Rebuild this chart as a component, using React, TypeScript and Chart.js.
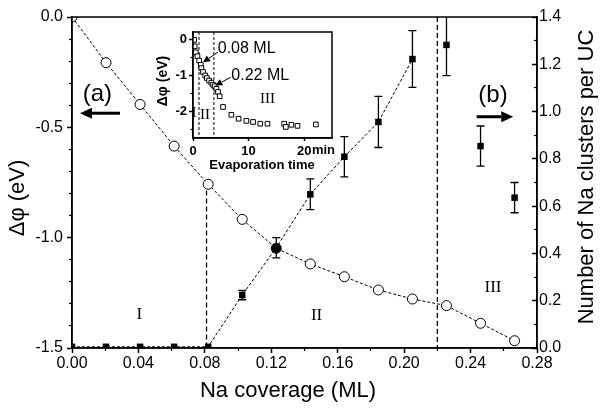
import React, { useEffect, useRef } from 'react';
import { Chart, registerables } from 'chart.js';

Chart.register(...registerables);

const SANS = "'Liberation Sans', Arial, Helvetica, sans-serif";
const SERIF = "'Liberation Serif', 'Times New Roman', serif";

// ---------- main chart data ----------
const coverage = [0, 0.0205, 0.041, 0.0615, 0.082, 0.1025, 0.123, 0.1435, 0.164, 0.1845, 0.205, 0.2255, 0.246, 0.2665];
const deltaPhi = [0, -0.207, -0.396, -0.585, -0.758, -0.917, -1.048, -1.119, -1.177, -1.237, -1.278, -1.308, -1.388, -1.467];
const clusters = [0.005, 0.005, 0.005, 0.005, 0.005, 0.224, 0.424, 0.65, 0.809, 0.956, 1.222, 1.282, 0.854, 0.636];
const clusterErr = [0, 0, 0, 0, 0, 0.02, 0.043, 0.065, 0.085, 0.108, 0.12, 0.13, 0.085, 0.064];
const clusterFitEnd = 10; // dotted guide joins the squares up to this index
const filledCircleIndex = 6;
const regionBoundaries = [0.081, 0.22];

const xTicks = [0, 0.04, 0.08, 0.12, 0.16, 0.2, 0.24, 0.28];
const xMinorTicks = [0.02, 0.06, 0.1, 0.14, 0.18, 0.22, 0.26];
const yLeftTicks = [-1.5, -1.0, -0.5, 0];
const yLeftMinor = [-1.4, -1.3, -1.2, -1.1, -0.9, -0.8, -0.7, -0.6, -0.4, -0.3, -0.2, -0.1];
const yRightTicks = [0, 0.2, 0.4, 0.6, 0.8, 1.0, 1.2, 1.4];
const yRightMinor = [0.1, 0.3, 0.5, 0.7, 0.9, 1.1, 1.3];

// ---------- inset data ----------
const evapTime = [0.2, 0.3, 0.5, 0.8, 1.1, 1.4, 1.5, 1.8, 2.2, 2.5, 2.9, 3.3, 3.6, 3.9, 4.2, 4.5, 4.8, 5.4, 6.9, 8.2, 9.6, 10.8, 12.1, 13.4, 16.4, 16.7, 17.7, 18.8, 22.1];
const evapPhi = [0.0, -0.18, -0.35, -0.46, -0.58, -0.7, -0.79, -0.9, -1.0, -1.07, -1.14, -1.2, -1.26, -1.3, -1.37, -1.46, -1.58, -1.88, -2.1, -2.21, -2.27, -2.3, -2.35, -2.35, -2.35, -2.44, -2.38, -2.41, -2.37];
const insetBoundaries = [1.08, 3.76];
const insetXTicks = [0, 10, 20];
const insetYTicks = [-2, -1, 0];
const insetYMinor = [-2.5, -1.5, -0.5];

function interp(xs: number[], ys: number[], x: number) {
  for (let i = 0; i < xs.length - 1; i++) {
    if (x >= xs[i] && x <= xs[i + 1]) {
      const t = (x - xs[i]) / (xs[i + 1] - xs[i]);
      return ys[i] + t * (ys[i + 1] - ys[i]);
    }
  }
  return ys[ys.length - 1];
}

function drawArrow(ctx: CanvasRenderingContext2D, x1: number, y1: number, x2: number, y2: number, headLen: number, headHalf: number, lw: number) {
  const ang = Math.atan2(y2 - y1, x2 - x1);
  const bx = x2 - headLen * Math.cos(ang);
  const by = y2 - headLen * Math.sin(ang);
  ctx.save();
  ctx.strokeStyle = '#000';
  ctx.fillStyle = '#000';
  ctx.lineWidth = lw;
  ctx.setLineDash([]);
  ctx.beginPath();
  ctx.moveTo(x1, y1);
  ctx.lineTo(bx, by);
  ctx.stroke();
  ctx.beginPath();
  ctx.moveTo(x2, y2);
  ctx.lineTo(bx + headHalf * Math.sin(ang), by - headHalf * Math.cos(ang));
  ctx.lineTo(bx - headHalf * Math.sin(ang), by + headHalf * Math.cos(ang));
  ctx.closePath();
  ctx.fill();
  ctx.restore();
}

function text(ctx: CanvasRenderingContext2D, s: string, x: number, y: number, font: string, align: CanvasTextAlign = 'center', rot = 0) {
  ctx.save();
  ctx.fillStyle = '#000';
  ctx.font = font;
  ctx.textAlign = align;
  ctx.textBaseline = 'middle';
  ctx.translate(x, y);
  if (rot) ctx.rotate(rot);
  ctx.fillText(s, 0, 0);
  ctx.restore();
}

function explicitTicks(list: number[]) {
  return (axis: any) => {
    axis.ticks = list.map((value) => ({ value }));
  };
}

function majorAxis(opts: any) {
  const { position, min, max, ticks, size, weight, tickLength, padding, fmt, fontSize, bold } = opts;
  return {
    type: 'linear',
    position,
    min,
    max,
    weight,
    afterBuildTicks: explicitTicks(ticks),
    afterFit: (s: any) => {
      if (position === 'left' || position === 'right') s.width = size;
      else s.height = size;
    },
    ticks: {
      autoSkip: false,
      maxRotation: 0,
      minRotation: 0,
      padding,
      color: '#000',
      font: { size: fontSize, family: SANS, weight: bold ? 'bold' : 'normal' },
      callback: fmt,
    },
    grid: { display: true, drawOnChartArea: false, drawTicks: true, tickLength, tickWidth: 1.5, tickColor: '#000' },
    border: { display: true, color: '#000', width: 1.5 },
  };
}

function minorAxis(position: string, min: number, max: number, ticks: number[], tickLength: number) {
  return {
    type: 'linear',
    position,
    min,
    max,
    weight: 0,
    afterBuildTicks: explicitTicks(ticks),
    afterFit: (s: any) => {
      if (position === 'left' || position === 'right') s.width = 0;
      else s.height = 0;
    },
    ticks: { display: false },
    grid: { display: true, drawOnChartArea: false, drawTicks: true, tickLength, tickWidth: 1.2, tickColor: '#000' },
    border: { display: false },
  };
}

const mainDecor = {
  id: 'mainDecor',
  afterDatasetsDraw(chart: any) {
    const { ctx, chartArea, scales } = chart;
    const x = scales.x;
    const yR = scales.yR;
    ctx.save();
    ctx.beginPath();
    ctx.rect(chartArea.left, chartArea.top, chartArea.right - chartArea.left, chartArea.bottom - chartArea.top);
    ctx.clip();
    ctx.strokeStyle = '#000';
    ctx.lineWidth = 1.3;
    ctx.setLineDash([]);
    coverage.forEach((c, i) => {
      const e = clusterErr[i];
      if (!e) return;
      const px = x.getPixelForValue(c);
      const top = yR.getPixelForValue(clusters[i] + e);
      const bot = yR.getPixelForValue(clusters[i] - e);
      ctx.beginPath();
      ctx.moveTo(px, top);
      ctx.lineTo(px, bot);
      ctx.moveTo(px - 4, top);
      ctx.lineTo(px + 4, top);
      ctx.moveTo(px - 4, bot);
      ctx.lineTo(px + 4, bot);
      ctx.stroke();
    });
    ctx.restore();
  },
  afterDraw(chart: any) {
    const { ctx, chartArea, scales } = chart;
    const x = scales.x;
    const y = scales.y;
    // frame
    ctx.save();
    ctx.strokeStyle = '#000';
    ctx.lineWidth = 1.5;
    ctx.strokeRect(chartArea.left, chartArea.top, chartArea.right - chartArea.left, chartArea.bottom - chartArea.top);
    ctx.restore();

    const X = (v: number) => x.getPixelForValue(v);
    const Y = (v: number) => y.getPixelForValue(v);

    text(ctx, '(a)', X(0.0153), Y(-0.349), `24px ${SANS}`);
    drawArrow(ctx, X(0.0289), Y(-0.436), X(0.0048), Y(-0.436), 12, 5.5, 3);
    text(ctx, '(b)', X(0.2535), Y(-0.353), `24px ${SANS}`);
    drawArrow(ctx, X(0.2437), Y(-0.452), X(0.2657), Y(-0.452), 12, 5.5, 3);

    text(ctx, 'I', X(0.0405), Y(-1.35), `17px ${SERIF}`);
    text(ctx, 'II', X(0.1473), Y(-1.354), `17px ${SERIF}`);
    text(ctx, 'III', X(0.2535), Y(-1.228), `17px ${SERIF}`);

    text(ctx, '\u0394\u03c6 (eV)', 18, 198, `22px ${SANS}`, 'center', -Math.PI / 2);
    text(ctx, 'Number of Na clusters per UC', 587, 177, `22px ${SANS}`, 'center', -Math.PI / 2);
    text(ctx, 'Na coverage (ML)', 288, 391, `22px ${SANS}`);
  },
};

const insetDecor = {
  id: 'insetDecor',
  afterDraw(chart: any) {
    const { ctx, chartArea, scales } = chart;
    const x = scales.x;
    const y = scales.y;
    ctx.save();
    ctx.strokeStyle = '#000';
    ctx.lineWidth = 1.5;
    ctx.strokeRect(chartArea.left, chartArea.top, chartArea.right - chartArea.left, chartArea.bottom - chartArea.top);
    ctx.restore();
    const X = (v: number) => x.getPixelForValue(v);
    const Y = (v: number) => y.getPixelForValue(v);

    // "min" unit after the last tick label
    ctx.save();
    ctx.font = `bold 13px ${SANS}`;
    const w20 = ctx.measureText('20').width;
    ctx.fillStyle = '#000';
    ctx.textAlign = 'left';
    ctx.textBaseline = 'top';
    ctx.fillText('min', X(20) + w20 / 2 + 0.5, chartArea.bottom + 6);
    ctx.restore();

    text(ctx, '\u0394\u03c6 (eV)', 13.5, 61, `bold 14px ${SANS}`, 'center', -Math.PI / 2);
    text(ctx, 'Evaporation time', 112, 145.5, `bold 13px ${SANS}`);

    text(ctx, '0.08 ML', X(4.45), Y(-0.25), `16px ${SANS}`, 'left');
    drawArrow(ctx, X(4.5), Y(-0.34), X(1.8), Y(-0.63), 7, 3.5, 1);
    text(ctx, '0.22 ML', X(6.9), Y(-1.0), `16px ${SANS}`, 'left');
    drawArrow(ctx, X(6.8), Y(-1.05), X(4.0), Y(-1.28), 7, 3.5, 1);

    text(ctx, 'I', X(0.2), Y(-2.06), `15px ${SERIF}`);
    text(ctx, 'II', X(2.15), Y(-2.12), `15px ${SERIF}`);
    text(ctx, 'III', X(13.4), Y(-1.67), `15px ${SERIF}`);
  },
};

function MainChart() {
  const ref = useRef<HTMLCanvasElement | null>(null);
  useEffect(() => {
    if (!ref.current) return;
    const circleTopAtBoundary = interp(coverage, deltaPhi, regionBoundaries[0]);
    const chart = new Chart(ref.current, {
      type: 'scatter',
      data: {
        datasets: [
          {
            label: 'boundary I/II',
            data: [
              { x: regionBoundaries[0], y: circleTopAtBoundary },
              { x: regionBoundaries[0], y: -1.5 },
            ],
            yAxisID: 'y',
            showLine: true,
            borderColor: '#000',
            borderWidth: 1.3,
            borderDash: [5, 3],
            pointRadius: 0,
            order: 5,
          },
          {
            label: 'boundary II/III',
            data: [
              { x: regionBoundaries[1], y: 0 },
              { x: regionBoundaries[1], y: -1.5 },
            ],
            yAxisID: 'y',
            showLine: true,
            borderColor: '#000',
            borderWidth: 1.3,
            borderDash: [5, 3],
            pointRadius: 0,
            order: 5,
          },
          {
            label: 'work function change',
            data: coverage.map((c, i) => ({ x: c, y: deltaPhi[i] })),
            yAxisID: 'y',
            showLine: true,
            borderColor: '#000',
            borderWidth: 1,
            borderDash: [3, 2],
            pointStyle: 'circle',
            pointRadius: 5,
            pointBorderWidth: 1,
            pointBorderColor: '#000',
            pointBackgroundColor: (c: any) => (c.dataIndex === filledCircleIndex ? '#000' : '#fff'),
            order: 3,
          },
          {
            label: 'clusters',
            data: coverage.map((c, i) => ({ x: c, y: clusters[i] })),
            yAxisID: 'yR',
            showLine: true,
            borderColor: '#000',
            borderWidth: 1,
            borderDash: [3, 2],
            segment: {
              borderColor: (c: any) => (c.p0DataIndex < clusterFitEnd ? '#000' : 'rgba(0,0,0,0)'),
            },
            pointStyle: 'rect',
            pointRadius: 4.6,
            pointBorderWidth: 0,
            pointBackgroundColor: '#000',
            pointBorderColor: '#000',
            order: 1,
          },
        ],
      },
      options: {
        animation: false,
        responsive: false,
        devicePixelRatio: 1,
        events: [],
        layout: { padding: { top: 17, left: 0, right: 0, bottom: 0 } },
        plugins: { legend: { display: false }, tooltip: { enabled: false } },
        scales: {
          x: majorAxis({ position: 'bottom', min: 0, max: 0.28, ticks: xTicks, size: 60, weight: 1, tickLength: 5, padding: 1, fontSize: 16, fmt: (v: any) => Number(v).toFixed(2) }),
          xMinor: minorAxis('bottom', 0, 0.28, xMinorTicks, 3),
          y: majorAxis({ position: 'left', min: -1.5, max: 0, ticks: yLeftTicks, size: 72, weight: 1, tickLength: 5, padding: 4, fontSize: 16, fmt: (v: any) => Number(v).toFixed(1) }),
          yMinor: minorAxis('left', -1.5, 0, yLeftMinor, 3),
          yR: majorAxis({ position: 'right', min: 0, max: 1.4, ticks: yRightTicks, size: 68, weight: 1, tickLength: -5, padding: 7, fontSize: 16, fmt: (v: any) => Number(v).toFixed(1) }),
          yRMinor: minorAxis('right', 0, 1.4, yRightMinor, -3),
        },
      } as any,
      plugins: [mainDecor],
    });
    return () => chart.destroy();
  }, []);
  return <canvas ref={ref} width={605} height={408} style={{ position: 'absolute', left: 0, top: 0, width: 605, height: 408 }} />;
}

function InsetChart() {
  const ref = useRef<HTMLCanvasElement | null>(null);
  useEffect(() => {
    if (!ref.current) return;
    const yMin = -2.75;
    const yMax = 0.22;
    const chart = new Chart(ref.current, {
      type: 'scatter',
      data: {
        datasets: [
          ...insetBoundaries.map((b) => ({
            label: 'boundary',
            data: [
              { x: b, y: yMax },
              { x: b, y: yMin },
            ],
            showLine: true,
            borderColor: '#000',
            borderWidth: 1,
            borderDash: [3, 2],
            pointRadius: 0,
            order: 3,
          })),
          {
            label: 'evaporation',
            data: evapTime.map((t, i) => ({ x: t, y: evapPhi[i] })),
            showLine: false,
            pointStyle: 'rect',
            pointRadius: 3.3,
            pointBorderWidth: 1,
            pointBorderColor: '#000',
            pointBackgroundColor: '#fff',
            order: 1,
          },
        ],
      },
      options: {
        animation: false,
        responsive: false,
        devicePixelRatio: 1,
        events: [],
        layout: { padding: { top: 12, right: 18, left: 0, bottom: 0 } },
        plugins: { legend: { display: false }, tooltip: { enabled: false } },
        scales: {
          x: majorAxis({ position: 'bottom', min: 0, max: 25, ticks: insetXTicks, size: 42, weight: 1, tickLength: 3, padding: 3, fontSize: 13, bold: true, fmt: (v: any) => String(v) }),
          y: majorAxis({ position: 'left', min: yMin, max: yMax, ticks: insetYTicks, size: 43, weight: 1, tickLength: 4, padding: 2, fontSize: 13, bold: true, fmt: (v: any) => String(v) }),
          yMinor: minorAxis('left', yMin, yMax, insetYMinor, 2.5),
        },
      } as any,
      plugins: [insetDecor],
    });
    return () => chart.destroy();
  }, []);
  return <canvas ref={ref} width={200} height={160} style={{ position: 'absolute', left: 150, top: 20, width: 200, height: 160 }} />;
}

export default function App() {
  return (
    <div style={{ position: 'absolute', left: 0, top: 0, width: 605, height: 408, background: '#fff', overflow: 'hidden' }}>
      <MainChart />
      <InsetChart />
    </div>
  );
}
